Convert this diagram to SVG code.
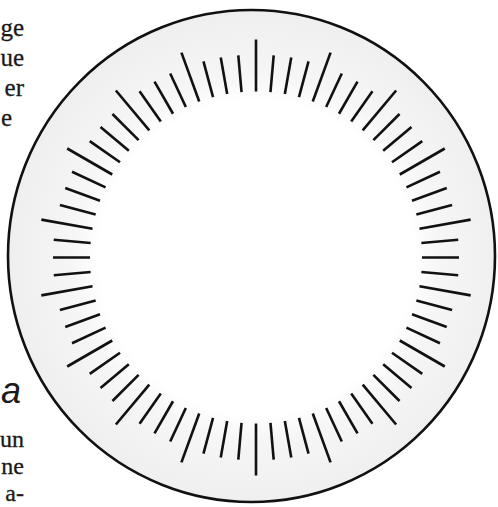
<svg xmlns="http://www.w3.org/2000/svg" xmlns:xlink="http://www.w3.org/1999/xlink" width="498" height="507" viewBox="0 0 498 507">
  <style>
    .body { font-family: "Liberation Serif", "DejaVu Serif", serif; font-size: 25px; fill: #1a1a1a; text-anchor: end; stroke: #1a1a1a; stroke-width: 0.3; }
    .sm { font-size: 24px; }
    .head { font-family: "Liberation Sans", "DejaVu Sans", sans-serif; font-size: 36px; font-style: italic; fill: #1a1a1a; text-anchor: end; }
    .tick { stroke: #111; stroke-width: 2.6; stroke-linecap: butt; }
  </style>
  <defs>
    <radialGradient id="ring" gradientUnits="userSpaceOnUse" cx="256" cy="257.5" r="246">
      <stop offset="0" stop-color="#ffffff"/>
      <stop offset="0.64" stop-color="#ffffff"/>
      <stop offset="0.74" stop-color="#f6f6f6"/>
      <stop offset="1" stop-color="#efefef"/>
    </radialGradient>
    <line id="s" class="tick" x1="0" y1="-166" x2="0" y2="-203"/>
    <line id="l" class="tick" x1="0" y1="-166" x2="0" y2="-218"/>
  </defs>
  <rect width="498" height="507" fill="#ffffff"/>

  <g id="text">
    <text class="body" x="24" y="36">ge</text>
    <text class="body" x="24" y="66">ue</text>
    <text class="body" x="24" y="96">er</text>
    <text class="body" x="12" y="126">e</text>
    <text class="head" x="21" y="403">a</text>
    <text class="body sm" x="24" y="447">un</text>
    <text class="body sm" x="24" y="474">ne</text>
    <text class="body sm" x="24" y="501">a-</text>
  </g>

  <g id="dial">
    <ellipse cx="251.5" cy="256" rx="243.5" ry="246" fill="url(#ring)" stroke="#111" stroke-width="2.6"/>
    <g id="ticks" transform="translate(256 257.5)">
      <use xlink:href="#l" transform="rotate(0)"/>
      <use xlink:href="#s" transform="rotate(5)"/>
      <use xlink:href="#s" transform="rotate(10)"/>
      <use xlink:href="#s" transform="rotate(15)"/>
      <use xlink:href="#l" transform="rotate(20)"/>
      <use xlink:href="#s" transform="rotate(25)"/>
      <use xlink:href="#s" transform="rotate(30)"/>
      <use xlink:href="#s" transform="rotate(35)"/>
      <use xlink:href="#l" transform="rotate(40)"/>
      <use xlink:href="#s" transform="rotate(45)"/>
      <use xlink:href="#s" transform="rotate(50)"/>
      <use xlink:href="#s" transform="rotate(55)"/>
      <use xlink:href="#l" transform="rotate(60)"/>
      <use xlink:href="#s" transform="rotate(65)"/>
      <use xlink:href="#s" transform="rotate(70)"/>
      <use xlink:href="#s" transform="rotate(75)"/>
      <use xlink:href="#l" transform="rotate(80)"/>
      <use xlink:href="#s" transform="rotate(85)"/>
      <use xlink:href="#s" transform="rotate(90)"/>
      <use xlink:href="#s" transform="rotate(95)"/>
      <use xlink:href="#l" transform="rotate(100)"/>
      <use xlink:href="#s" transform="rotate(105)"/>
      <use xlink:href="#s" transform="rotate(110)"/>
      <use xlink:href="#s" transform="rotate(115)"/>
      <use xlink:href="#l" transform="rotate(120)"/>
      <use xlink:href="#s" transform="rotate(125)"/>
      <use xlink:href="#s" transform="rotate(130)"/>
      <use xlink:href="#s" transform="rotate(135)"/>
      <use xlink:href="#l" transform="rotate(140)"/>
      <use xlink:href="#s" transform="rotate(145)"/>
      <use xlink:href="#s" transform="rotate(150)"/>
      <use xlink:href="#s" transform="rotate(155)"/>
      <use xlink:href="#l" transform="rotate(160)"/>
      <use xlink:href="#s" transform="rotate(165)"/>
      <use xlink:href="#s" transform="rotate(170)"/>
      <use xlink:href="#s" transform="rotate(175)"/>
      <use xlink:href="#l" transform="rotate(180)"/>
      <use xlink:href="#s" transform="rotate(185)"/>
      <use xlink:href="#s" transform="rotate(190)"/>
      <use xlink:href="#s" transform="rotate(195)"/>
      <use xlink:href="#l" transform="rotate(200)"/>
      <use xlink:href="#s" transform="rotate(205)"/>
      <use xlink:href="#s" transform="rotate(210)"/>
      <use xlink:href="#s" transform="rotate(215)"/>
      <use xlink:href="#l" transform="rotate(220)"/>
      <use xlink:href="#s" transform="rotate(225)"/>
      <use xlink:href="#s" transform="rotate(230)"/>
      <use xlink:href="#s" transform="rotate(235)"/>
      <use xlink:href="#l" transform="rotate(240)"/>
      <use xlink:href="#s" transform="rotate(245)"/>
      <use xlink:href="#s" transform="rotate(250)"/>
      <use xlink:href="#s" transform="rotate(255)"/>
      <use xlink:href="#l" transform="rotate(260)"/>
      <use xlink:href="#s" transform="rotate(265)"/>
      <use xlink:href="#s" transform="rotate(270)"/>
      <use xlink:href="#s" transform="rotate(275)"/>
      <use xlink:href="#l" transform="rotate(280)"/>
      <use xlink:href="#s" transform="rotate(285)"/>
      <use xlink:href="#s" transform="rotate(290)"/>
      <use xlink:href="#s" transform="rotate(295)"/>
      <use xlink:href="#l" transform="rotate(300)"/>
      <use xlink:href="#s" transform="rotate(305)"/>
      <use xlink:href="#s" transform="rotate(310)"/>
      <use xlink:href="#s" transform="rotate(315)"/>
      <use xlink:href="#l" transform="rotate(320)"/>
      <use xlink:href="#s" transform="rotate(325)"/>
      <use xlink:href="#s" transform="rotate(330)"/>
      <use xlink:href="#s" transform="rotate(335)"/>
      <use xlink:href="#l" transform="rotate(340)"/>
      <use xlink:href="#s" transform="rotate(345)"/>
      <use xlink:href="#s" transform="rotate(350)"/>
      <use xlink:href="#s" transform="rotate(355)"/>
    </g>
  </g>
</svg>
